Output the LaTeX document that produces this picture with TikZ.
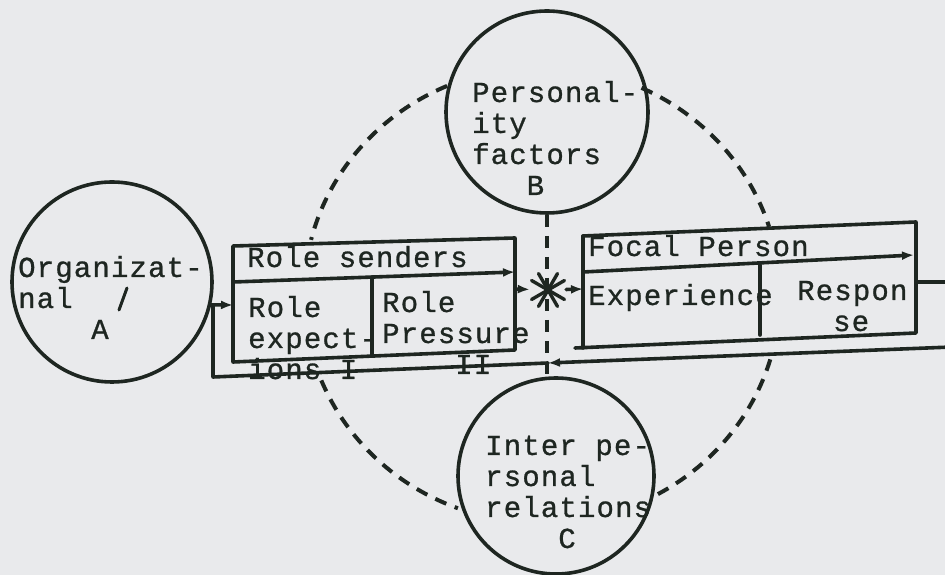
\documentclass[tikz,border=0pt]{standalone}
\usepackage{fontspec}
\newfontfamily\tw[LetterSpace=4, BoldFont={Liberation Mono}, BoldFeatures={FakeBold=0.9}]{Liberation Mono}
\usetikzlibrary{arrows.meta,calc}
\definecolor{ink}{RGB}{30,38,33}
\definecolor{paper}{RGB}{233,234,236}
% left-aligned block whose baseline is that of its first line
\newcommand\twlines[1]{\begin{tabular}[t]{@{}l@{}}#1\end{tabular}}
\begin{document}
\begin{tikzpicture}[x=1pt,y=1pt,
  inkline/.style={draw=ink, line width=3.6pt, line cap=round, line join=round},
  arrowed/.style={-{Latex[length=12pt,width=9pt]}},
  dashline/.style={draw=ink, line width=4pt, dash pattern=on 12pt off 9pt},
  bubble/.style={circle, draw=ink, line width=3.6pt, inner sep=0pt},
  txt/.style={anchor=base west, inner sep=0pt, text=ink, font=\tw\bfseries\fontsize{29}{31}\selectfont},
]
\fill[paper] (0,0) rectangle (945,575);
\useasboundingbox (0,0) rectangle (945,575);

% the three influences
\node[bubble, minimum size=200pt] (A) at (112,293) {};
\node[bubble, minimum size=202pt] (B) at (547,463) {};
\node[bubble, minimum size=196pt] (C) at (556,99) {};

% role senders box
\coordinate (RTL) at (233,329);
\coordinate (RTR) at (515,337);
\coordinate (RSL) at (233,293);
\coordinate (RSR) at (515,303);
\coordinate (RBL) at (233,213);
\coordinate (RBR) at (515,225);
\coordinate (RDT) at (372,298);
\coordinate (RDB) at (372,220);
\coordinate (RO)  at (515,286);
\coordinate (In)  at (233,270);

% focal person box
\coordinate (FTL) at (583,339);
\coordinate (FTR) at (916,353);
\coordinate (FSL) at (583,303);
\coordinate (FSR) at (914,320);
\coordinate (FBL) at (583,227);
\coordinate (FBX) at (575,227);
\coordinate (FBR) at (916,242);
\coordinate (FDT) at (760,310);
\coordinate (FDB) at (760,240);
\coordinate (FI)  at (583,286);
\coordinate (FO)  at (916,293);
\coordinate (Exit) at (952,293);

% feedback loop along the bottom
\coordinate (FbR)  at (952,228);
\coordinate (FbMid) at (548,212);
\coordinate (FbL)  at (213,198);

% centre of the dashed ring
\coordinate (O) at (542,280);

% crossing point of the role pressure and the modifiers
\node[circle, minimum size=36pt, inner sep=0pt] (X) at (548,285) {};

% boxes
\draw[inkline] (RTL) -- (RTR) -- (RBR) -- (RBL) -- cycle;
\draw[inkline, arrowed] (RSL) -- (RSR);
\draw[inkline] (RDT) -- (RDB);

\draw[inkline] (FTL) -- (FTR) -- (FBR) -- (FBX);
\draw[inkline] (FTL) -- (FBL);
\draw[inkline, arrowed] (FSL) -- (FSR);
\draw[inkline] (FDT) -- (FDB);

% flows
\draw[inkline, arrowed] (A.-13.3) -- (In);
\draw[inkline, arrowed] (RO) -- (X);
\draw[inkline, arrowed] (X) -- (FI);
\draw[inkline] (FO) -- (Exit);
\draw[inkline, arrowed] (FbR) -- (FbMid);
\draw[inkline] (FbMid) -- (FbL) -- (FbL |- In);

% asterisk
\foreach \a in {30,60,120,150}
  \draw[ink, line width=3.4pt, line cap=round] (X.center) ++(\a:19pt) -- ++(\a+180:38pt);

% dashed modifiers
\draw[dashline] (B.south) -- (B.south |- C.north);
\draw[dashline] (O) ++(113.5:238pt and 228pt) arc[start angle=113.5, end angle=166, x radius=238pt, y radius=228pt];
\draw[dashline] (O) ++(65.3:238pt and 228pt) arc[start angle=65.3, end angle=17.4, x radius=238pt, y radius=228pt];
\draw[dashline] (O) ++(202:238pt and 228pt) arc[start angle=202, end angle=249.3, x radius=238pt, y radius=228pt];
\draw[dashline] (O) ++(-16.4:238pt and 228pt) arc[start angle=-16.4, end angle=-62.3, x radius=238pt, y radius=228pt];

% mark inside A
\draw[ink, line width=3pt, line cap=round] (119,265) -- (127,287);

% texts
\node[txt] (tA) at (18,298) {\twlines{Organizat-\\nal\\\hphantom{xxxx}A}};
\node[txt] (tB) at (472,473) {\twlines{Personal-\\ity\\factors\\\hphantom{xxx}B}};
\node[txt] (tC) at (485,120) {\twlines{Inter pe-\\rsonal\\relations\\\hphantom{xxxx}C}};
\node[txt] (tRS) at (247,308) {Role senders};
\node[txt] (tRE) at (248,258) {\twlines{Role\\expect-\\ions I}};
\node[txt] (tRP) at (382,263) {\twlines{Role\\Pressure\\\hphantom{xxxx}II}};
\node[txt] (tFP) at (588,319) {Focal Person};
\node[txt] (tEx) at (588,270) {Experience};
\node[txt] (tRe) at (797,275) {\twlines{Respon\\\hphantom{xx}se}};
\end{tikzpicture}
\end{document}
